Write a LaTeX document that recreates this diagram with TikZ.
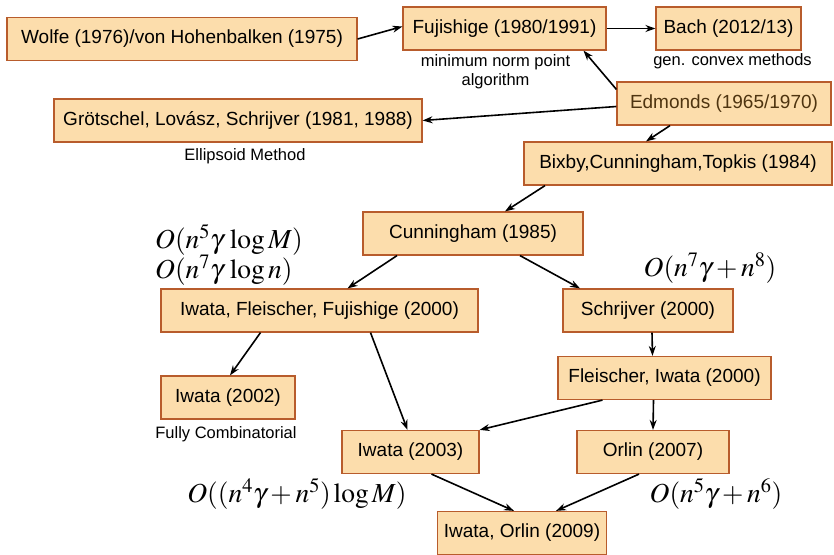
\documentclass[tikz,border=0pt]{standalone}
\usepackage{mathptmx}
\usepackage[no-math]{fontspec}
\setmainfont{Liberation Sans}
\usepackage{xcolor}
\usetikzlibrary{arrows.meta, positioning}
\definecolor{boxfill}{RGB}{252,221,172}
\definecolor{boxline}{RGB}{184,92,44}
\definecolor{edmtext}{RGB}{78,52,16}

\begin{document}
\begin{tikzpicture}[x=1pt, y=-1pt,
  every node/.style={font=\fontsize{19}{22}\selectfont},
  box/.style={rectangle, draw=boxline, fill=boxfill, line width=1.2pt,
              minimum height=43pt, inner xsep=6pt},
  note/.style={font=\fontsize{16.5}{19}\selectfont, align=center, inner sep=1pt},
  cplx/.style={font=\fontsize{27.5}{30}\selectfont, inner sep=0pt},
  arr/.style={-{Stealth[length=10pt, width=7pt]}, line width=1.6pt},
  node distance=4pt
]
\useasboundingbox (0,0) rectangle (834,554);

% --- Early work (top) ---
\node[box, minimum width=350pt] (wolfe) at (182,39)    {Wolfe (1976)/von Hohenbalken (1975)};
\node[box, minimum width=203pt] (fuj)   at (504.5,28.5) {Fujishige (1980/1991)};
\node[box, minimum width=145pt] (bach)  at (728.5,28.5) {Bach (2012/13)};
\node[box, minimum width=214pt, text=edmtext] (edm) at (724,103.5) {Edmonds (1965/1970)};
\node[box, minimum width=368pt] (grot)  at (238,120.5)  {Grötschel, Lovász, Schrijver (1981, 1988)};
\node[box, minimum width=308pt] (bct)   at (678,163.5)  {Bixby,Cunningham,Topkis (1984)};

% --- Notes under boxes ---
\node[note, below=3pt of fuj, xshift=-9pt]   (mnp)  {minimum norm point\\algorithm};
\node[note, below=2pt of bach, xshift=4pt]   (gcm)  {gen. convex methods};
\node[note, below=5pt of grot, xshift=7pt]   (ell)  {Ellipsoid Method};

% --- Combinatorial algorithms ---
\node[box, minimum width=220pt] (cun)  at (473,233.5)   {Cunningham (1985)};
\node[box, minimum width=317pt] (iff)  at (319.5,310.5) {Iwata, Fleischer, Fujishige (2000)};
\node[box, minimum width=170pt] (schr) at (648,310.5)   {Schrijver (2000)};
\node[box, minimum width=213pt] (fi)   at (664.5,378)   {Fleischer, Iwata (2000)};
\node[box, minimum width=134pt] (iw02) at (228,397.5)   {Iwata (2002)};
\node[box, minimum width=137pt] (iw03) at (410.5,452)   {Iwata (2003)};
\node[box, minimum width=152pt] (orl)  at (653,452)     {Orlin (2007)};
\node[box, minimum width=162pt] (io)   at (522,533)     {Iwata, Orlin (2009)};

\node[note, below=6pt of iw02, xshift=-2pt] (fc) {Fully Combinatorial};

% --- Running times ---
\node[cplx, anchor=west] (t1) at (155,240) {$O(n^5\gamma\,\log M)$};
\node[cplx, anchor=west] (t2) at (155,270) {$O(n^7\gamma\,\log n)$};
\node[cplx] (t3) at (710,268) {$O(n^7\gamma+n^8)$};
\node[cplx] (t4) at (297,494) {$O((n^4\gamma+n^5)\log M)$};
\node[cplx] (t5) at (716,494) {$O(n^5\gamma+n^6)$};

% --- Arrows ---
\draw[arr] (wolfe.east) -- ([yshift=2pt]fuj.west);
\draw[arr] (fuj.east) -- (bach.west);
\draw[arr] ([yshift=-8pt]edm.north west) -- ([xshift=79pt]fuj.south);
\draw[arr] ([yshift=-3pt]edm.west) -- (grot.east);
\draw[arr] ([xshift=-54pt]edm.south) -- ([xshift=-32pt]bct.north);
\draw[arr] ([xshift=-133pt]bct.south) -- ([xshift=32pt]cun.north);
\draw[arr] ([xshift=-76pt]cun.south) -- ([xshift=28pt]iff.north);
\draw[arr] ([xshift=47pt]cun.south) -- ([xshift=-68pt]schr.north);
\draw[arr] ([xshift=-59pt]iff.south) -- ([xshift=2pt]iw02.north);
\draw[arr] ([xshift=51pt]iff.south) -- ([xshift=-3pt]iw03.north);
\draw[arr] ([xshift=4pt]schr.south) -- ([xshift=-12pt]fi.north);
\draw[arr] ([xshift=-62pt]fi.south) -- (iw03.north east);
\draw[arr] ([xshift=-11pt]fi.south) -- (orl.north);
\draw[arr] ([xshift=21pt]iw03.south) -- ([xshift=-8pt]io.north);
\draw[arr] ([xshift=-14pt]orl.south) -- ([xshift=34pt]io.north);

\end{tikzpicture}
\end{document}
